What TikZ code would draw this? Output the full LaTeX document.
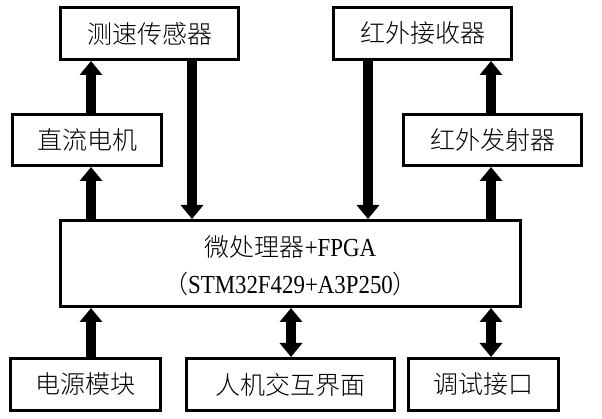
\documentclass[tikz,border=0pt]{standalone}
\usepackage{fontspec}
\setmainfont{Noto Sans CJK SC}[UprightFont={* Light}]
\newfontfamily\latinf[FakeStretch=0.88,Scale=1.04]{Liberation Serif}
\usetikzlibrary{arrows.meta}
\begin{document}
\begin{tikzpicture}[x=1pt,y=-1pt,
  box/.style={draw, line width=3pt, inner sep=0pt, font=\fontsize{25}{30}\selectfont},
  arr/.style={line width=10pt, -{Triangle[width=22pt,length=14pt]}},
  darr/.style={line width=10pt, {Triangle[width=22pt,length=14pt]}-{Triangle[width=22pt,length=14pt]}}]
\useasboundingbox (0,0) rectangle (602,419);
% top row
\node[box, minimum width=178pt, minimum height=52pt] (cs) at (149.5,33.5) {测速传感器};
\node[box, minimum width=178pt, minimum height=52pt] (hj) at (422.5,33.5) {红外接收器};
% second row
\node[box, minimum width=149pt, minimum height=51pt] (dc) at (87,140) {直流电机};
\node[box, minimum width=178pt, minimum height=51pt] (hf) at (492.5,140) {红外发射器};
% main
\node[box, minimum width=460pt, minimum height=86pt,
      font=\fontsize{25}{37}\selectfont] (mcu) at (290.5,263.5)
  {\raisebox{-4pt}[\height][\depth]{\begin{tabular}{@{}c@{}}
    微处理器{\latinf +FPGA}\\
    （{\latinf STM32F429+A3P250}）
  \end{tabular}}};
% bottom row
\node[box, minimum width=150pt, minimum height=52pt] (dy) at (85.5,384.5) {电源模块};
\node[box, minimum width=208pt, minimum height=52pt] (rj) at (290.5,384.5) {人机交互界面};
\node[box, minimum width=150pt, minimum height=52pt] (ts) at (483.5,384.5) {调试接口};
% x positions of connectors
\coordinate (xa) at (91,0);
\coordinate (xb) at (192,0);
\coordinate (xc) at (368,0);
\coordinate (xd) at (491,0);
\coordinate (xe) at (291,0);
% connectors
\draw[arr] (dc.north -| xa) -- (cs.south -| xa);
\draw[arr] (mcu.north -| xa) -- (dc.south -| xa);
\draw[arr] (cs.south -| xb) -- (mcu.north -| xb);
\draw[arr] (hj.south -| xc) -- (mcu.north -| xc);
\draw[arr] (hf.north -| xd) -- (hj.south -| xd);
\draw[arr] (mcu.north -| xd) -- (hf.south -| xd);
\draw[arr] (dy.north -| xa) -- (mcu.south -| xa);
\draw[darr] (rj.north -| xe) -- (mcu.south -| xe);
\draw[darr] (ts.north -| xd) -- (mcu.south -| xd);
\end{tikzpicture}
\end{document}
